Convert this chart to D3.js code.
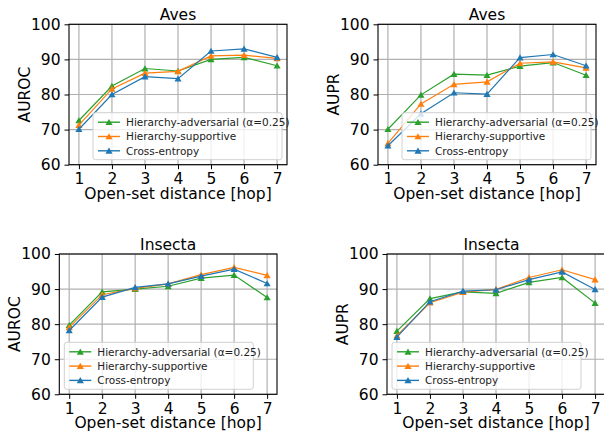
<!DOCTYPE html>
<html lang="en">
<head>
<meta charset="UTF-8">
<title>Open-set detection by hop distance</title>
<style>
    body { margin: 0; background: #fff; }
    svg { display: block; font-family: "DejaVu Sans", sans-serif; }
</style>
</head>
<body>
<svg width="604" height="434"></svg>
<script src="https://d3js.org/d3.v7.min.js"></script>
<script>
// hop distance on the x axis
var hops = [1, 2, 3, 4, 5, 6, 7];
var yTicks = [60, 70, 80, 90, 100];
var seriesNames = ["Hierarchy-adversarial (\u03b1=0.25)", "Hierarchy-supportive", "Cross-entropy"];
var seriesColors = ["#2ca02c", "#ff7f0e", "#1f77b4"];

// Aves, AUROC
var avesAurocAdv = [72.6, 82.4, 87.4, 86.7, 90.0, 90.6, 88.2];
var avesAurocSup = [71.3, 81.6, 86.1, 86.6, 91.0, 91.2, 90.3];
var avesAurocCE  = [70.1, 80.0, 85.1, 84.5, 92.4, 93.0, 90.6];
// Aves, AUPR
var avesAuprAdv = [70.1, 79.9, 85.8, 85.5, 88.1, 89.1, 85.5];
var avesAuprSup = [66.1, 77.3, 82.9, 83.6, 88.9, 89.3, 87.6];
var avesAuprCE  = [65.4, 74.5, 80.5, 80.1, 90.5, 91.4, 88.2];
// Insecta, AUROC
var insAurocAdv = [79.7, 89.2, 90.0, 90.8, 93.1, 94.0, 87.6];
var insAurocSup = [79.1, 88.4, 90.2, 91.5, 94.1, 96.2, 93.9];
var insAurocCE  = [78.2, 87.7, 90.5, 91.5, 93.7, 95.7, 91.6];
// Insecta, AUPR
var insAuprAdv = [78.0, 87.3, 89.2, 88.8, 91.9, 93.3, 86.0];
var insAuprSup = [76.7, 86.1, 89.1, 89.9, 93.3, 95.5, 92.7];
var insAuprCE  = [76.3, 86.4, 89.4, 89.8, 92.7, 94.9, 89.9];

var svg = d3.select("svg");

// panel boxes (pixel frame of each axes)
var panels = [
    { title: "Aves", ylabel: "AUROC", left: 69, right: 287, top: 24.3, bottom: 164.7,
      data: [avesAurocAdv, avesAurocSup, avesAurocCE], legend: "right" },
    { title: "Aves", ylabel: "AUPR", left: 378, right: 596, top: 24.3, bottom: 164.7,
      data: [avesAuprAdv, avesAuprSup, avesAuprCE], legend: "right" },
    { title: "Insecta", ylabel: "AUROC", left: 59.3, right: 277, top: 254, bottom: 394.3,
      data: [insAurocAdv, insAurocSup, insAurocCE], legend: "left" },
    { title: "Insecta", ylabel: "AUPR", left: 387, right: 605, top: 254, bottom: 394.3,
      data: [insAuprAdv, insAuprSup, insAuprCE], legend: "left" }
];

var tri = d3.symbol().type(d3.symbolTriangle).size(22);

panels.forEach(function (p) {
    var x = d3.scaleLinear().domain([0.7, 7.3]).range([p.left, p.right]);
    var y = d3.scaleLinear().domain([60, 100]).range([p.bottom, p.top]);
    var g = svg.append("g");

    // grid
    g.selectAll(".gx").data(hops).enter().append("line")
        .attr("x1", d => x(d)).attr("x2", d => x(d))
        .attr("y1", p.top).attr("y2", p.bottom)
        .attr("stroke", "#b0b0b0").attr("stroke-width", 1.2);
    g.selectAll(".gy").data(yTicks).enter().append("line")
        .attr("x1", p.left).attr("x2", p.right)
        .attr("y1", d => y(d)).attr("y2", d => y(d))
        .attr("stroke", "#b0b0b0").attr("stroke-width", 1.2);

    // axes
    var xAxis = d3.axisBottom(x).tickValues(hops).tickFormat(d3.format("d")).tickSize(4.5).tickPadding(4);
    var yAxis = d3.axisLeft(y).tickValues(yTicks).tickFormat(d3.format("d")).tickSize(4.5).tickPadding(4);
    var gx = g.append("g").attr("transform", "translate(0," + p.bottom + ")").call(xAxis);
    var gy = g.append("g").attr("transform", "translate(" + p.left + ",0)").call(yAxis);
    [gx, gy].forEach(function (a) {
        a.select(".domain").remove();
        a.selectAll("line").attr("stroke", "#000").attr("stroke-width", 1);
        a.selectAll("text").attr("font-size", 15.5).attr("fill", "#000")
            .attr("font-family", "DejaVu Sans, sans-serif");
    });

    // series, drawn in legend order so cross-entropy sits on top
    var line = d3.line().x((d, i) => x(hops[i])).y(d => y(d));
    p.data.forEach(function (vals, k) {
        g.append("path").datum(vals).attr("d", line)
            .attr("fill", "none").attr("stroke", seriesColors[k]).attr("stroke-width", 1.2);
        g.selectAll(".m" + k).data(vals).enter().append("path")
            .attr("d", tri)
            .attr("transform", (d, i) => "translate(" + x(hops[i]) + "," + (y(d) + 0.8) + ")")
            .attr("fill", seriesColors[k]);
    });

    // frame
    g.append("rect").attr("x", p.left).attr("y", p.top)
        .attr("width", p.right - p.left).attr("height", p.bottom - p.top)
        .attr("fill", "none").attr("stroke", "#000").attr("stroke-width", 1.1);

    // legend
    var lw = 189, lh = 47;
    var lx = p.legend === "right" ? p.right - 5 - lw : p.left + 5;
    var ly = p.bottom - 5 - lh;
    var lg = g.append("g").attr("transform", "translate(" + lx + "," + ly + ")");
    lg.append("rect").attr("width", lw).attr("height", lh).attr("rx", 2.5)
        .attr("fill", "#fff").attr("fill-opacity", 0.8)
        .attr("stroke", "#d0d0d0").attr("stroke-width", 1);
    seriesNames.forEach(function (name, k) {
        var cy = 9.5 + k * 14.3;
        lg.append("line").attr("x1", 5).attr("x2", 27).attr("y1", cy).attr("y2", cy)
            .attr("stroke", seriesColors[k]).attr("stroke-width", 1.4);
        lg.append("path").attr("d", tri)
            .attr("transform", "translate(16," + (cy + 0.8) + ")")
            .attr("fill", seriesColors[k]);
        lg.append("text").attr("x", 33).attr("y", cy + 3.8)
            .attr("font-size", 10.5).attr("fill", "#222").text(name);
    });

    // labels
    var cx = (p.left + p.right) / 2;
    g.append("text").attr("x", Math.min(cx, (p.left + 596) / 2)).attr("y", p.top - 4.5)
        .attr("text-anchor", "middle").attr("font-size", 15.5).text(p.title);
    g.append("text").attr("x", (p.left + p.right) / 2).attr("y", p.bottom + 34)
        .attr("text-anchor", "middle").attr("font-size", 15.5).text("Open-set distance [hop]");
    g.append("text")
        .attr("transform", "translate(" + (p.left - 39) + "," + ((p.top + p.bottom) / 2) + ") rotate(-90)")
        .attr("text-anchor", "middle").attr("font-size", 15.5).text(p.ylabel);
});
</script>
</body>
</html>
